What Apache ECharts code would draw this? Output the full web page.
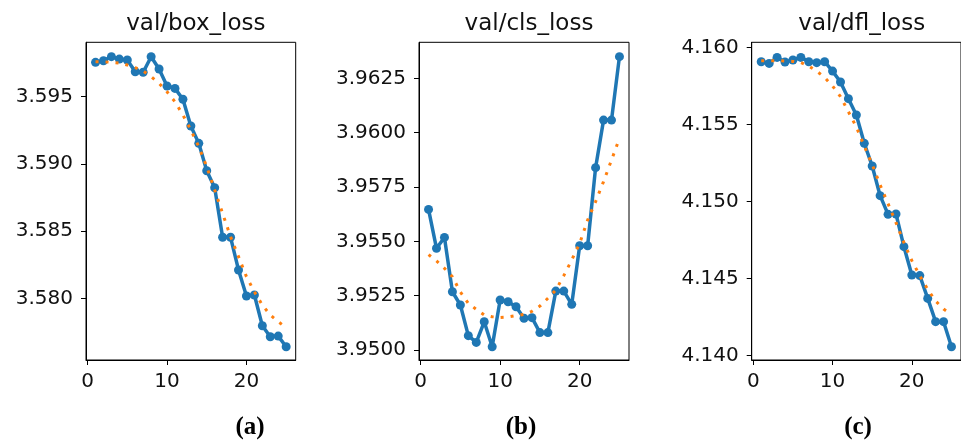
<!DOCTYPE html>
<html><head><meta charset="utf-8">
<script src="https://cdn.jsdelivr.net/npm/echarts@6/dist/echarts.min.js"></script>
<style>html,body{margin:0;padding:0;background:#fff}#c{width:961px;height:441px}</style>
</head><body><div id="c"></div>
<script>
const epochs = [1,2,3,4,5,6,7,8,9,10,11,12,13,14,15,16,17,18,19,20,21,22,23,24,25];
const xTicks = [0, 10, 20];

const boxLoss = [3.59756,3.59768,3.59798,3.59780,3.59773,3.59686,3.59682,3.59798,3.59706,3.59580,3.59562,3.59481,3.59282,3.59153,3.58949,3.58823,3.58454,3.58454,3.58211,3.58017,3.58025,3.57796,3.57714,3.57719,3.57640];
const boxTrend = [3.59760,3.59760,3.59756,3.59751,3.59736,3.59716,3.59691,3.59649,3.59600,3.59537,3.59463,3.59364,3.59252,3.59128,3.58979,3.58806,3.58632,3.58458,3.58310,3.58161,3.58049,3.57950,3.57876,3.57826,3.57781];
const boxTicks = [3.580, 3.585, 3.590, 3.595];

const clsLoss = [3.95647,3.95468,3.95518,3.95268,3.95207,3.95066,3.95035,3.95130,3.95015,3.95230,3.95222,3.95199,3.95146,3.95149,3.95080,3.95080,3.95271,3.95271,3.95210,3.95480,3.95480,3.95839,3.96058,3.96058,3.96350];
const clsTrend = [3.95439,3.95410,3.95376,3.95337,3.95267,3.95215,3.95187,3.95161,3.95153,3.95150,3.95152,3.95158,3.95164,3.95178,3.95202,3.95238,3.95276,3.95342,3.95414,3.95491,3.95598,3.95683,3.95775,3.95874,3.95974];
const clsTicks = [3.9500, 3.9525, 3.9550, 3.9575, 3.9600, 3.9625];

const dflLoss = [4.15909,4.15898,4.15937,4.15907,4.15920,4.15937,4.15909,4.15903,4.15909,4.15848,4.15777,4.15669,4.15563,4.15379,4.15232,4.15039,4.14918,4.14920,4.14708,4.14524,4.14520,4.14372,4.14221,4.14221,4.14058];
const dflTrend = [4.15916,4.15916,4.15916,4.15913,4.15911,4.15903,4.15881,4.15848,4.15807,4.15751,4.15682,4.15584,4.15485,4.15361,4.15242,4.15108,4.14987,4.14864,4.14734,4.14617,4.14520,4.14431,4.14355,4.14303,4.14268];
const dflTicks = [4.140, 4.145, 4.150, 4.155, 4.160];

const titles = ['val/box_loss', 'val/cls_loss', 'val/dfl_loss'];
const captions = ['a', 'b', 'c'];

const panels = [
  {vals: boxLoss, trend: boxTrend, ticks: boxTicks, dec: 3, ymin: 3.57541, ymax: 3.59905, left: 86, width: 209.7, capX: 245},
  {vals: clsLoss, trend: clsTrend, ticks: clsTicks, dec: 4, ymin: 3.94954, ymax: 3.96416, left: 419, width: 210, capX: 516},
  {vals: dflLoss, trend: dflTrend, ticks: dflTicks, dec: 3, ymin: 4.13972, ymax: 4.16035, left: 751.7, width: 210, capX: 853}
];

const FONT = 'DejaVu Sans';
const chart = echarts.init(document.getElementById('c'), null, {renderer: 'canvas'});
const grid = [], xAxis = [], yAxis = [], series = [], title = [];

panels.forEach((p, i) => {
  grid.push({left: p.left, top: 42.3, width: p.width, height: 317.7, show: true, borderColor: '#000', borderWidth: 1, backgroundColor: '#fff'});
  xAxis.push({
    type: 'value', gridIndex: i, min: -0.2, max: 26.2,
    axisLine: {show: true, onZero: false, lineStyle: {color: '#000', width: 1}},
    axisTick: {show: true, inside: false, length: 5, customValues: xTicks, lineStyle: {color: '#000', width: 1}},
    axisLabel: {show: true, customValues: xTicks, fontSize: 20, fontFamily: FONT, color: '#111', margin: 12},
    splitLine: {show: false}
  });
  yAxis.push({
    type: 'value', gridIndex: i, min: p.ymin, max: p.ymax,
    axisLine: {show: true, onZero: false, lineStyle: {color: '#000', width: 1}},
    axisTick: {show: true, inside: false, length: 5, customValues: p.ticks, lineStyle: {color: '#000', width: 1}},
    axisLabel: {show: true, customValues: p.ticks, fontSize: 20, fontFamily: FONT, color: '#111', margin: 13,
      formatter: v => Number(v).toFixed(p.dec)},
    splitLine: {show: false}
  });
  series.push({
    type: 'line', xAxisIndex: i, yAxisIndex: i, z: 2,
    data: epochs.map((e, k) => [e, p.vals[k]]),
    symbol: 'circle', symbolSize: 9, showSymbol: true,
    lineStyle: {color: '#1f77b4', width: 3.5}, itemStyle: {color: '#1f77b4'},
    clip: false
  });
  series.push({
    type: 'line', xAxisIndex: i, yAxisIndex: i, z: 3,
    data: epochs.map((e, k) => [e, p.trend[k]]),
    symbol: 'none', showSymbol: false,
    lineStyle: {color: '#ff7f0e', width: 3, type: [3, 7], cap: 'butt'},
    clip: false
  });
  title.push({
    text: titles[i], left: p.left + p.width / 2, top: 8, textAlign: 'center',
    textStyle: {fontFamily: FONT, fontSize: 23, fontWeight: 'normal', color: '#111'}
  });
  title.push({
    text: '{n|(}{b|' + captions[i] + '}{n|)}', left: p.capX, top: 410, textAlign: 'center',
    textStyle: {rich: {
      n: {fontFamily: 'Liberation Serif', fontSize: 25, color: '#000'},
      b: {fontFamily: 'Liberation Serif', fontSize: 25, fontWeight: 'bold', color: '#000'}
    }}
  });
});

chart.setOption({animation: false, backgroundColor: '#fff', grid, xAxis, yAxis, series, title});
</script></body></html>
